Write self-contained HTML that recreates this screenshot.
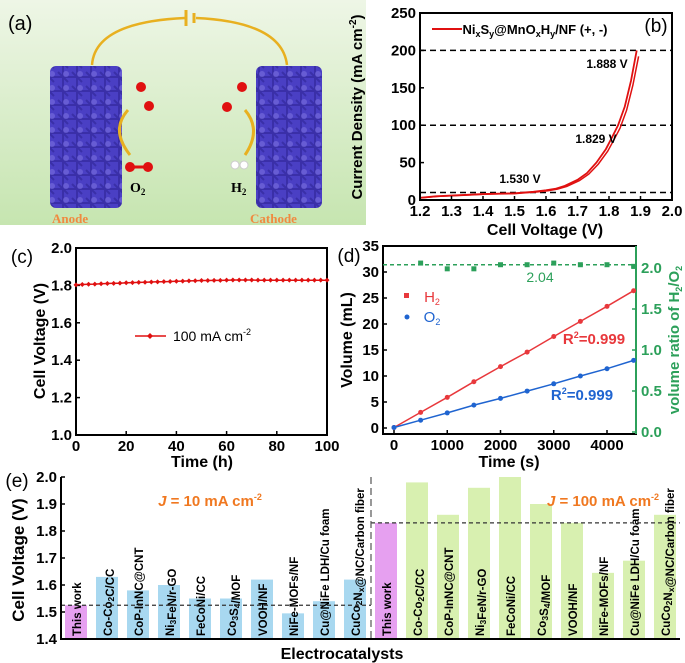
<!DOCTYPE html>
<html><head><meta charset="utf-8"><style>
body{margin:0;background:#fff}
svg{display:block;font-family:"Liberation Sans",Arial,sans-serif;font-weight:bold}
</style></head><body>
<svg id="s" width="685" height="663" viewBox="0 0 685 663" xmlns="http://www.w3.org/2000/svg">
<defs>
<linearGradient id="bg" x1="0" y1="0" x2="0" y2="1"><stop offset="0" stop-color="#eef6e6"/><stop offset="1" stop-color="#c6e5b0"/></linearGradient>
<pattern id="foam" width="14" height="14" patternUnits="userSpaceOnUse"><rect width="14" height="14" fill="#4a3fc4"/><path d="M0 7 L14 7 M7 0 L7 14 M2 2 L12 12" stroke="#3a2fa8" stroke-width="2"/><circle cx="10" cy="4" r="3" fill="#7a6fe0" opacity="0.6"/></pattern>
</defs>
<g>
<rect x="0" y="0" width="366" height="225" fill="url(#bg)"/>
<text x="8" y="30" font-size="20" font-weight="normal">(a)</text>
<path d="M92 65 Q95 22 185 18 M196 18 Q282 22 287 65" fill="none" stroke="#e8b020" stroke-width="2.5"/>
<line x1="186" y1="10" x2="186" y2="26" stroke="#e8b020" stroke-width="3"/><line x1="194" y1="13" x2="194" y2="23" stroke="#e8b020" stroke-width="3"/>
<rect x="50" y="66" width="72" height="142" fill="url(#foam)" rx="6"/>
<rect x="256" y="66" width="66" height="142" fill="url(#foam)" rx="6"/>
<circle cx="141" cy="87" r="5" fill="#e01010"/><circle cx="149" cy="106" r="5" fill="#e01010"/>
<circle cx="242" cy="87" r="5" fill="#e01010"/><circle cx="227" cy="107" r="5" fill="#e01010"/>
<path d="M128 110 Q110 130 130 155" fill="none" stroke="#e8b020" stroke-width="3"/>
<path d="M245 110 Q262 130 245 155" fill="none" stroke="#e8b020" stroke-width="3"/>
<circle cx="130" cy="167" r="5" fill="#e01010"/><circle cx="148" cy="167" r="5" fill="#e01010"/><line x1="130" y1="167" x2="148" y2="167" stroke="#e01010" stroke-width="3"/>
<circle cx="235" cy="165" r="4" fill="#fff" stroke="#ccc"/><circle cx="244" cy="165" r="4" fill="#fff" stroke="#ccc"/>
<text x="130" y="192" font-family="Liberation Serif" font-size="14">O<tspan font-size="9" dy="3">2</tspan></text>
<text x="231" y="192" font-family="Liberation Serif" font-size="14">H<tspan font-size="9" dy="3">2</tspan></text>
<text x="52" y="223" font-family="Liberation Serif" font-size="13" fill="#f08a40">Anode</text>
<text x="250" y="223" font-family="Liberation Serif" font-size="13" fill="#f08a40">Cathode</text>
</g>
<g id="pb"></g>
<g id="pc"></g>
<g id="pd"></g>
<g id="pe"></g>
</svg>
<script>
// ---- Panel b data
const lsvV=[1.2,1.25,1.3,1.35,1.4,1.45,1.5,1.53,1.56,1.6,1.63,1.66,1.7,1.73,1.76,1.79,1.81,1.829,1.85,1.87,1.888];
const lsvJ=[3,5,6,7,8,8.5,9,10,11,13,15,19,27,36,50,68,84,100,125,160,200];
const lsvTicksX=[1.2,1.3,1.4,1.5,1.6,1.7,1.8,1.9,2.0];
const lsvTicksY=[0,50,100,150,200,250];
const lsvRefs=[10,100,200];
// ---- Panel c data
const stabT=[0,2.5,5,7.5,10,12.5,15,17.5,20,22.5,25,27.5,30,32.5,35,37.5,40,42.5,45,47.5,50,52.5,55,57.5,60,62.5,65,67.5,70,72.5,75,77.5,80,82.5,85,87.5,90,92.5,95,97.5,100];
const stabV=[1.803,1.805,1.806,1.807,1.809,1.810,1.811,1.812,1.814,1.815,1.816,1.817,1.818,1.819,1.820,1.821,1.822,1.823,1.824,1.825,1.826,1.826,1.827,1.827,1.828,1.829,1.829,1.829,1.829,1.828,1.828,1.828,1.828,1.828,1.828,1.828,1.828,1.828,1.828,1.828,1.828];
const stabTicksX=[0,20,40,60,80,100];
const stabTicksY=[1.0,1.2,1.4,1.6,1.8,2.0];
// ---- Panel d data
const gasT=[0,500,1000,1500,2000,2500,3000,3500,4000,4500];
const gasH2=[0.1,3.0,5.9,8.9,11.8,14.6,17.6,20.5,23.4,26.4];
const gasO2=[0.1,1.5,2.9,4.4,5.7,7.1,8.5,10.0,11.4,13.0];
const ratioT=[500,1000,1500,2000,2500,3000,3500,4000,4500];
const ratioV=[2.06,1.99,1.99,2.04,2.04,2.06,2.04,2.04,2.02];
const gasTicksX=[0,1000,2000,3000,4000];
const gasTicksY=[0,5,10,15,20,25,30,35];
const ratioTicks=[0.0,0.5,1.0,1.5,2.0];
// ---- Panel e data
const catNames=["This work","Co-Co<sub>2</sub>C/CC","CoP-InNC@CNT","Ni<sub>3</sub>FeN/r-GO","FeCoNi/CC","Co<sub>3</sub>S<sub>4</sub>/MOF","VOOH/NF","NiFe-MOFs/NF","Cu@NiFe LDH/Cu foam","CuCo<sub>2</sub>N<sub>x</sub>@NC/Carbon fiber"];
const v10=[1.525,1.63,1.58,1.60,1.55,1.55,1.62,1.495,1.54,1.62];
const v100=[1.83,1.98,1.86,1.96,2.0,1.90,1.83,1.645,1.69,1.86];
const eTicksY=[1.4,1.5,1.6,1.7,1.8,1.9,2.0];

const NS="http://www.w3.org/2000/svg";
function el(p,tag,a,txt){const e=document.createElementNS(NS,tag);for(const k in a)e.setAttribute(k,a[k]);if(txt!==undefined)e.innerHTML=txt;p.appendChild(e);return e;}
function lin(d0,d1,r0,r1){return v=>r0+(v-d0)/(d1-d0)*(r1-r0);}
function pathOf(xs,ys,X,Y){return xs.map((v,i)=>(i?'L':'M')+X(v).toFixed(1)+' '+Y(ys[i]).toFixed(1)).join(' ');}
function axes(g,x0,y0,x1,y1,col){el(g,'rect',{x:x0,y:y0,width:x1-x0,height:y1-y0,fill:'none',stroke:col||'#000','stroke-width':2});}
function xt(g,ticks,X,yb,fmt,fs){ticks.forEach(t=>{el(g,'line',{x1:X(t),x2:X(t),y1:yb,y2:yb-4,stroke:'#000','stroke-width':1.5});const tx=el(g,'text',{x:X(t),y:yb+16,'font-size':fs||15,'text-anchor':'middle'},fmt(t));});}
function yt(g,ticks,Y,xl,fmt,fs,col,right){ticks.forEach(t=>{el(g,'line',{x1:xl,x2:right?xl-4:xl+4,y1:Y(t),y2:Y(t),stroke:col||'#000','stroke-width':1.5});const tx=el(g,'text',{x:right?xl+5:xl-4,y:Y(t)+5,'font-size':fs||15,'text-anchor':right?'start':'end',fill:col||'#000'},fmt(t));});}
function lbl(g,x,y,txt,fs,rot,name,col){const t=el(g,'text',{x:x,y:y,'font-size':fs,'text-anchor':'middle',fill:col||'#000',transform:rot?`rotate(${rot} ${x} ${y})`:''},txt);return t;}

// Panel b
(function(){const g=document.getElementById('pb');
const X=lin(1.2,2.0,420,672),Y=lin(0,250,200,13);
lsvRefs.forEach(r=>{const l=el(g,'line',{x1:420,x2:672,y1:Y(r),y2:Y(r),stroke:'#000','stroke-width':1.5,'stroke-dasharray':'6 4'});});
const c1=el(g,'path',{d:pathOf(lsvV,lsvJ,X,Y),fill:'none',stroke:'#e01010','stroke-width':1.8});
el(g,'path',{d:pathOf(lsvV.map(v=>v+0.006),lsvJ.map(j=>j*0.96),X,Y),fill:'none',stroke:'#e01010','stroke-width':1.5});
axes(g,420,13,672,200);
xt(g,lsvTicksX,X,200,t=>t.toFixed(1),15);yt(g,lsvTicksY,Y,420,t=>t,15);
lbl(g,545,235,'Cell Voltage (V)',16,0,'x-axis-title');
lbl(g,362,107,'Current Density (mA cm<tspan font-size="10" dy="-6">-2</tspan><tspan dy="6">)</tspan>',15,-90,'y-axis-title');
el(g,'line',{x1:432,x2:462,y1:29,y2:29,stroke:'#e01010','stroke-width':2});
lbl(g,535,34,'Ni<tspan font-size="9" dy="3">x</tspan><tspan dy="-3">S</tspan><tspan font-size="9" dy="3">y</tspan><tspan dy="-3">@MnO</tspan><tspan font-size="9" dy="3">x</tspan><tspan dy="-3">H</tspan><tspan font-size="9" dy="3">y</tspan><tspan dy="-3">/NF (+, -)</tspan>',13,0,'legend-entry');
lbl(g,656,32,'(b)',19,0,'panel-label').setAttribute('font-weight','normal');
lbl(g,607,68,'1.888 V',12,0,'annotation-1888');lbl(g,596,143,'1.829 V',12,0,'annotation-1829');lbl(g,520,183,'1.530 V',12,0,'annotation-1530');
})();
// Panel c
(function(){const g=document.getElementById('pc');
const X=lin(0,100,76,327),Y=lin(1.0,2.0,435,248);
axes(g,76,248,327,435);
xt(g,stabTicksX,X,435,t=>t,15);yt(g,stabTicksY,Y,76,t=>t.toFixed(1),15);
const p=el(g,'path',{d:pathOf(stabT,stabV,X,Y),fill:'none',stroke:'#e01010','stroke-width':1.5});
stabT.forEach((t,i)=>{const m=el(g,'path',{d:`M${X(t)} ${Y(stabV[i])-2.5} l2.5 2.5 l-2.5 2.5 l-2.5 -2.5z`,fill:'#e01010'});});
el(g,'line',{x1:135,x2:166,y1:336,y2:336,stroke:'#e01010','stroke-width':1.5});el(g,'path',{d:'M150 333 l3 3 l-3 3 l-3 -3z',fill:'#e01010'});
lbl(g,212,341,'100 mA cm<tspan font-size="9" dy="-6">-2</tspan>',14,0,'legend-entry').setAttribute('font-weight','normal');
lbl(g,202,467,'Time (h)',16,0,'x-axis-title');lbl(g,45,341,'Cell Voltage (V)',16,-90,'y-axis-title');
const pl=lbl(g,22,263,'(c)',19,0,'panel-label');pl.setAttribute('font-weight','normal');
})();
// Panel d
(function(){const g=document.getElementById('pd');
const X=lin(0,4000,394,607),Y=lin(0,35,428,246),R=lin(0,2,432,268);
axes(g,383,246,636,434);
el(g,'line',{x1:636,x2:636,y1:246,y2:434,stroke:'#2ca05a','stroke-width':2});
xt(g,gasTicksX,X,434,t=>t,15);yt(g,gasTicksY,Y,383,t=>t,15);yt(g,ratioTicks,R,636,t=>t.toFixed(1),15,'#2ca05a',true);
const rl=el(g,'line',{x1:383,x2:636,y1:R(2.04),y2:R(2.04),stroke:'#2ca05a','stroke-width':1.5,'stroke-dasharray':'4 3'});
ratioT.forEach((t,i)=>{const m=el(g,'rect',{x:X(t)-2.5,y:R(ratioV[i])-2.5,width:5,height:5,fill:'#2ca05a'});});
[[gasH2,'#e8383c','h2'],[gasO2,'#1f64d0','o2']].forEach(([arr,c,n])=>{const p=el(g,'path',{d:pathOf(gasT,arr,X,Y),fill:'none',stroke:c,'stroke-width':1.5});
gasT.forEach((t,i)=>{const m=el(g,'circle',{cx:X(t),cy:Y(arr[i]),r:2.5,fill:c});});});
el(g,'rect',{x:404,y:293,width:5,height:5,fill:'#e8383c'});lbl(g,432,302,'H<tspan font-size="9" dy="3">2</tspan>',15,0,'legend-h2','#e8383c').setAttribute('font-weight','normal');
el(g,'circle',{cx:407,cy:317,r:2.5,fill:'#1f64d0'});lbl(g,432,322,'O<tspan font-size="9" dy="3">2</tspan>',15,0,'legend-o2','#1f64d0').setAttribute('font-weight','normal');
lbl(g,594,344,'R<tspan font-size="9" dy="-6">2</tspan><tspan dy="6">=0.999</tspan>',15,0,'r2-h2','#e8383c');
lbl(g,582,400,'R<tspan font-size="9" dy="-6">2</tspan><tspan dy="6">=0.999</tspan>',15,0,'r2-o2','#1f64d0');
lbl(g,540,282,'2.04',14,0,'ratio-mean-label','#2ca05a').setAttribute('font-weight','normal');
lbl(g,509,467,'Time (s)',16,0,'x-axis-title');lbl(g,352,340,'Volume (mL)',16,-90,'y-axis-title');
lbl(g,679,340,'volume ratio of H<tspan font-size="9" dy="3">2</tspan><tspan dy="-3">/O</tspan><tspan font-size="9" dy="3">2</tspan>',15,-90,'y2-axis-title','#2ca05a');
lbl(g,349,262,'(d)',19,0,'panel-label').setAttribute('font-weight','normal');
})();
// Panel e
(function(){const g=document.getElementById('pe');
const x0=61,x1=680,mid=371,Y=lin(1.4,2.0,639,477);const bw=(mid-x0)/10;
function bars(vals,start,col,n){vals.forEach((v,i)=>{const bx=start+i*bw+4;const r=el(g,'rect',{x:bx,y:Y(v),width:bw-9,height:Y(1.4)-Y(v),fill:col});
const cx=bx+(bw-9)/2+5;const t=el(g,'text',{x:cx,y:636,'font-size':11.5,transform:`rotate(-90 ${cx} 636)`},catNames[i].replace(/<sub>/g,'<tspan font-size="8.5" dy="2">').replace(/<\/sub>/g,'</tspan><tspan dy="-2"></tspan>'));});}
bars(v10,x0,'#a8d8f0','j10');bars(v100,mid,'#d8f0b0','j100');
g.querySelectorAll('rect')[0].setAttribute('fill','#e6a0f0');g.querySelectorAll('rect')[10].setAttribute('fill','#e6a0f0');
el(g,'line',{x1:x0,x2:mid,y1:Y(v10[0]),y2:Y(v10[0]),stroke:'#333','stroke-width':1.2,'stroke-dasharray':'4 3'});
el(g,'line',{x1:mid,x2:x1,y1:Y(v100[0]),y2:Y(v100[0]),stroke:'#333','stroke-width':1.2,'stroke-dasharray':'4 3'});
el(g,'line',{x1:mid,x2:mid,y1:477,y2:639,stroke:'#555','stroke-width':1.2,'stroke-dasharray':'7 4'});
el(g,'path',{d:`M${x0} 477 L${x0} 639 L${x1} 639`,fill:'none',stroke:'#000','stroke-width':2});
yt(g,eTicksY,Y,x0,t=>t.toFixed(1),15);
lbl(g,210,506,'<tspan font-style="italic">J</tspan> = 10 mA cm<tspan font-size="9" dy="-6">-2</tspan>',15,0,'annotation-j10','#f07820');
lbl(g,603,506,'<tspan font-style="italic">J</tspan> = 100 mA cm<tspan font-size="9" dy="-6">-2</tspan>',15,0,'annotation-j100','#f07820');
lbl(g,342,659,'Electrocatalysts',16,0,'x-axis-title');
lbl(g,24,560,'Cell Voltage (V)',17,-90,'y-axis-title');
lbl(g,17,487,'(e)',19,0,'panel-label').setAttribute('font-weight','normal');
})();
</script>
</body></html>
